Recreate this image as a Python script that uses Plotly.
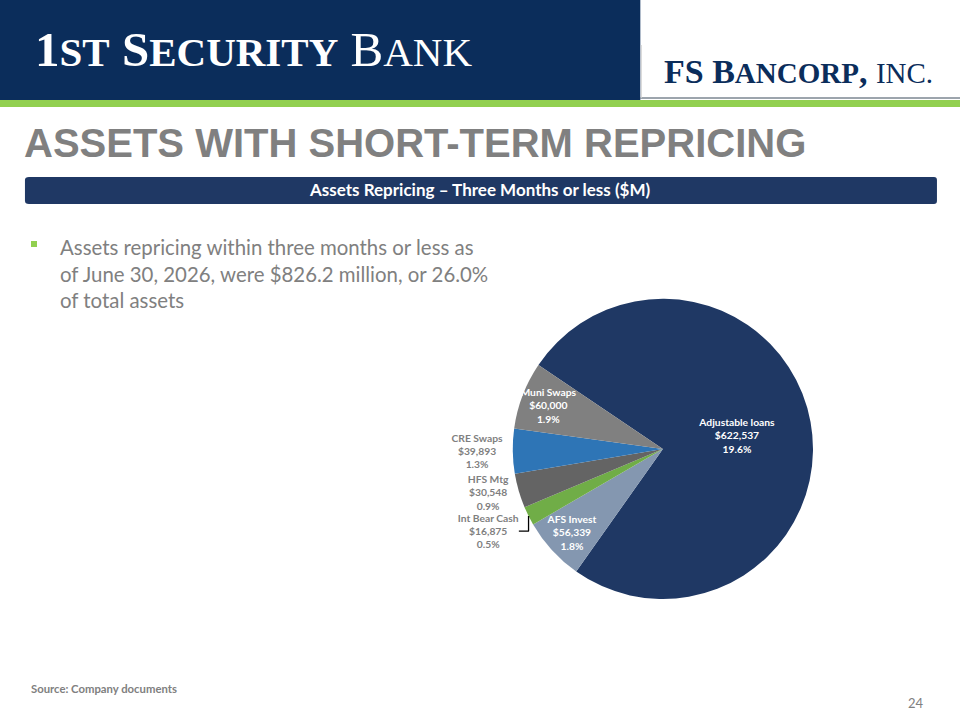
import plotly.graph_objects as go

# slice data ($000s), clockwise from the top-left edge of the big slice
labels = ["Adjustable loans", "AFS Invest", "Int Bear Cash", "HFS Mtg", "CRE Swaps", "Muni Swaps"]
amounts = [622537, 56339, 16875, 30548, 39893, 60000]
pct_of_assets = ["19.6%", "1.8%", "0.5%", "0.9%", "1.3%", "1.9%"]
colors = ["#1F3864", "#8497B0", "#70AD47", "#646464", "#2E75B6", "#808080"]
text_pos = ["inside", "inside", "outside", "outside", "outside", "inside"]
text_col = ["white", "white", "#7F7F7F", "#7F7F7F", "#7F7F7F", "white"]

NAVY = "#0B2D5B"
GRAY = "#808080"

fig = go.Figure(go.Pie(
    labels=labels,
    values=amounts,
    customdata=pct_of_assets,
    sort=False,
    direction="clockwise",
    rotation=-56,
    marker=dict(colors=colors, line=dict(width=0)),
    texttemplate="<b>%{label}</b><br><b>$%{value:,}</b><br><b>%{customdata}</b>",
    textposition=text_pos,
    insidetextorientation="horizontal",
    textfont=dict(family="Lato, Noto Sans, sans-serif", size=10.3, color=text_col),
    domain=dict(x=[0.534, 0.847], y=[0.168, 0.585]),
    showlegend=False,
    hoverinfo="skip",
))

shapes = [
    # header band
    dict(type="rect", xref="paper", yref="paper", x0=0, x1=0.667, y0=1 - 100 / 720, y1=1,
         fillcolor=NAVY, line_width=0, layer="below"),
    dict(type="line", xref="paper", yref="paper", x0=0.667, x1=1, y0=1 - 98 / 720, y1=1 - 98 / 720,
         line=dict(color="#3a4a5a", width=1)),
    dict(type="line", xref="paper", yref="paper", x0=0.668, x1=0.668, y0=1 - 98 / 720, y1=1 - 45 / 720,
         line=dict(color="#d0d0d0", width=1)),
    dict(type="rect", xref="paper", yref="paper", x0=0, x1=1, y0=1 - 107 / 720, y1=1 - 100 / 720,
         fillcolor="#92D050", line_width=0),
    # banner
    dict(type="path", xref="paper", yref="paper",
         path="M 0.0302 0.7167 L 0.9729 0.7167 Q 0.9760 0.7167 0.9760 0.7208 L 0.9760 0.7500 "
              "Q 0.9760 0.7542 0.9729 0.7542 L 0.0302 0.7542 Q 0.0260 0.7542 0.0260 0.7500 "
              "L 0.0260 0.7208 Q 0.0260 0.7167 0.0302 0.7167 Z",
         fillcolor="#1F3864", line_width=0),
    # bullet
    dict(type="rect", xref="paper", yref="paper", x0=31 / 960, x1=37 / 960,
         y0=1 - 247 / 720, y1=1 - 241 / 720, fillcolor="#92D050", line_width=0),
]

sc = "font-size:41px"
annotations = [
    dict(x=33 / 960, y=1 - 50 / 720, xanchor="left", yanchor="middle",
         text=f"<b>1<span style='{sc}'>ST</span> S<span style='{sc}'>ECURITY</span></b> "
              f"B<span style='{sc}'>ANK</span>",
         font=dict(family="Liberation Serif, DejaVu Serif, serif", size=49, color="white")),
    dict(x=662 / 960, y=1 - 72 / 720, xanchor="left", yanchor="middle",
         text="<b>FS B<span style='font-size:29px'>ANCORP</span>,</b> "
              "<span style='font-size:29px'>INC.</span>",
         font=dict(family="Liberation Serif, DejaVu Serif, serif", size=34, color=NAVY)),
    dict(x=22 / 960, y=1 - 143 / 720, xanchor="left", yanchor="middle",
         text="<b>ASSETS WITH SHORT-TERM REPRICING</b>",
         font=dict(family="Liberation Sans, Arial, sans-serif", size=40, color=GRAY)),
    dict(x=0.5, y=1 - 190 / 720, xanchor="center", yanchor="middle",
         text="<b>Assets Repricing – Three Months or less ($M)</b>",
         font=dict(family="Lato, Noto Sans, sans-serif", size=17, color="white")),
    dict(x=58 / 960, y=1 - 233 / 720, xanchor="left", yanchor="top", align="left",
         text="Assets repricing within three months or less as<br>"
              "of June 30, 2026, were $826.2 million, or 26.0%<br>of total assets",
         font=dict(family="Lato, Noto Sans, sans-serif", size=20.4, color=GRAY)),
    dict(x=29 / 960, y=1 - 688 / 720, xanchor="left", yanchor="middle",
         text="<b>Source: Company documents</b>",
         font=dict(family="Lato, Noto Sans, sans-serif", size=11.3, color=GRAY)),
    dict(x=926 / 960, y=1 - 703 / 720, xanchor="right", yanchor="middle",
         text="24",
         font=dict(family="Lato, Noto Sans, sans-serif", size=13, color=GRAY)),
]
for a in annotations:
    a.update(xref="paper", yref="paper", showarrow=False)

fig.update_layout(
    width=960, height=720,
    margin=dict(l=0, r=0, t=0, b=0),
    paper_bgcolor="white",
    plot_bgcolor="white",
    shapes=shapes,
    annotations=annotations,
    uniformtext=dict(minsize=10.3, mode="show"),
)

fig.write_html("out.html", config={"displayModeBar": False},
               post_script="document.body.style.margin = '0';")
